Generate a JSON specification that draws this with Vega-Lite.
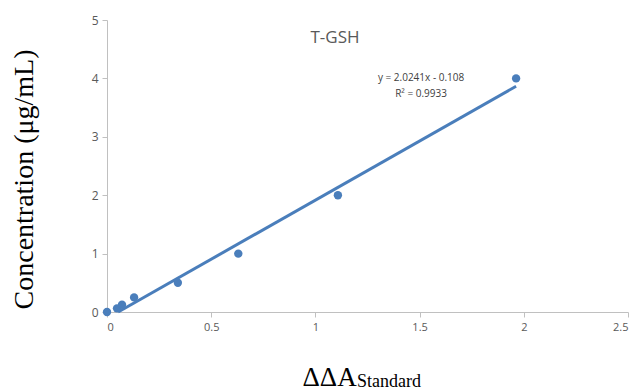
{
  "$schema": "https://vega.github.io/schema/vega-lite/v6.json",
  "width": 521,
  "height": 292,
  "autosize": {"type": "none"},
  "padding": {"left": 107, "top": 20, "right": 10, "bottom": 78},
  "background": "white",
  "config": {"view": {"stroke": null}},
  "datasets": {
    "points": [
      {"x": 0, "y": 0},
      {"x": 0.048, "y": 0.0625},
      {"x": 0.072, "y": 0.125},
      {"x": 0.13, "y": 0.25},
      {"x": 0.34, "y": 0.5},
      {"x": 0.63, "y": 1},
      {"x": 1.108, "y": 2},
      {"x": 1.963, "y": 4}
    ],
    "fit": [
      {"x": 0.0534, "y": 0},
      {"x": 1.963, "y": 3.865}
    ]
  },
  "layer": [
    {
      "data": {"name": "fit"},
      "mark": {"type": "line", "color": "#4a7ebb", "strokeWidth": 3},
      "encoding": {
        "x": {
          "field": "x", "type": "quantitative",
          "scale": {"domain": [0, 2.5], "nice": false, "zero": false},
          "axis": {
            "values": [0, 0.5, 1, 1.5, 2, 2.5],
            "format": "~g",
            "grid": false,
            "domainColor": "#c0c0c0",
            "tickColor": "#c0c0c0",
            "tickSize": 5,
            "labelColor": "#595959",
            "labelFont": "Open Sans",
            "labelFontSize": 11,
            "labelPadding": 4,
            "title": "ΔΔA",
            "titleFont": "Liberation Serif",
            "titleFontSize": 27,
            "titleFontWeight": "normal",
            "titleColor": "#000000",
            "titleAnchor": "start",
            "titleAlign": "left",
            "titleX": 195,
            "titleY": 73,
            "titleBaseline": "alphabetic"
          }
        },
        "y": {
          "field": "y", "type": "quantitative",
          "scale": {"domain": [0, 5], "nice": false},
          "axis": {
            "values": [0, 1, 2, 3, 4, 5],
            "format": "~g",
            "grid": false,
            "domainColor": "#c0c0c0",
            "tickColor": "#c0c0c0",
            "tickSize": 5,
            "labelColor": "#595959",
            "labelFont": "Open Sans",
            "labelFontSize": 12,
            "labelPadding": 4,
            "title": "Concentration (μg/mL)",
            "titleFont": "Liberation Serif",
            "titleFontSize": 28,
            "titleFontWeight": "normal",
            "titleColor": "#000000",
            "titleX": -69,
            "titleY": 159,
            "titleAnchor": "middle"
          }
        }
      }
    },
    {
      "data": {"name": "points"},
      "mark": {"type": "circle", "color": "#4a7ebb", "size": 70, "opacity": 1},
      "encoding": {
        "x": {"field": "x", "type": "quantitative"},
        "y": {"field": "y", "type": "quantitative"}
      }
    },
    {
      "data": {"values": [{"label": "T-GSH"}]},
      "mark": {"type": "text", "font": "Open Sans", "fontSize": 17, "color": "#595959", "align": "center", "baseline": "middle"},
      "encoding": {
        "x": {"datum": 1.094},
        "y": {"datum": 4.69},
        "text": {"field": "label"}
      }
    },
    {
      "data": {"values": [{"label": "y = 2.0241x - 0.108\nR² = 0.9933"}]},
      "mark": {"type": "text", "font": "Open Sans", "fontSize": 10, "color": "#404040", "align": "center", "baseline": "middle", "lineBreak": "\n", "lineHeight": 16},
      "encoding": {
        "x": {"datum": 1.507},
        "y": {"datum": 4.007},
        "text": {"field": "label"}
      }
    },
    {
      "data": {"values": [{"label": "Standard"}]},
      "mark": {"type": "text", "font": "Liberation Serif", "fontSize": 18, "color": "#000000", "align": "left", "baseline": "alphabetic"},
      "encoding": {
        "x": {"datum": 1.2},
        "y": {"datum": -1.284},
        "text": {"field": "label"}
      }
    }
  ]
}
